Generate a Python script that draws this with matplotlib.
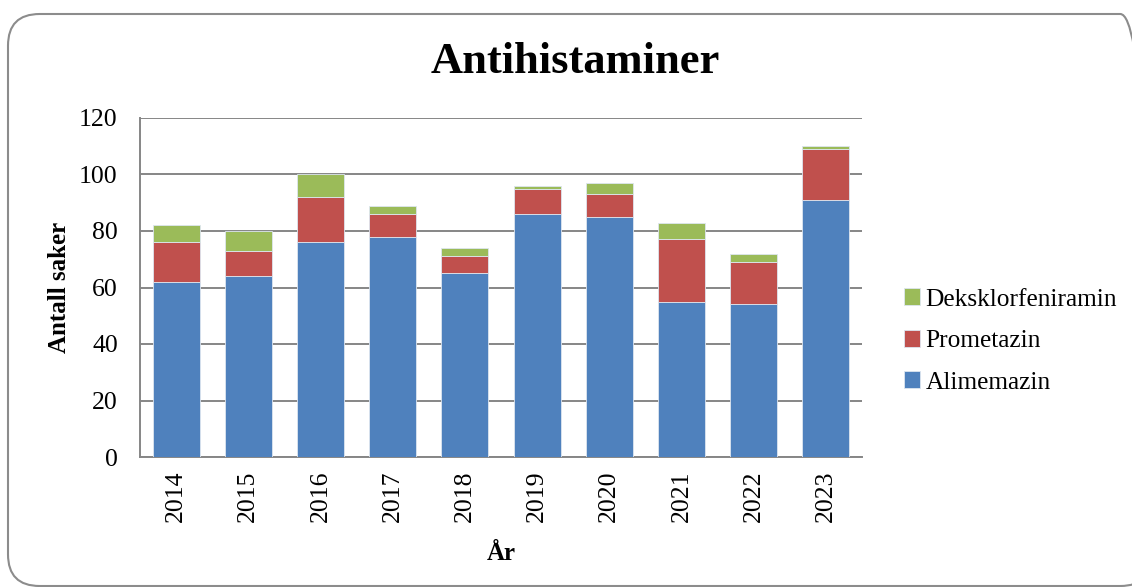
"""
Antihistaminer - stacked bars per year.
"""

import matplotlib
matplotlib.use("Agg")
import matplotlib.pyplot as plt
import matplotlib.patches as patches
import numpy as np

years = ["2014", "2015", "2016", "2017", "2018",
         "2019", "2020", "2021", "2022", "2023"]

alimemazin = [62, 64, 76, 78, 65, 86, 85, 55, 54, 91]
prometazin = [14, 9, 16, 8, 6, 9, 8, 22, 15, 18]
deksklorfeniramin = [6, 7, 8, 3, 3, 1, 4, 6, 3, 1]

series_names = ["Alimemazin", "Prometazin", "Deksklorfeniramin"]
colors = ["#4F81BD", "#C0504D", "#9BBB59"]

plt.rcParams["font.family"] = ["Liberation Serif", "DejaVu Serif"]

fig = plt.figure(figsize=(11.32, 5.87), dpi=100)

#
# Rounded frame (right edge runs just past the image)
#

frame = patches.FancyBboxPatch(
    (8 / 1132, 1 / 587),
    (1152 - 8) / 1132,
    1 - 14 / 587 - 1 / 587,
    boxstyle="round,pad=0,rounding_size=0.028",
    transform=fig.transFigure,
    facecolor="none",
    edgecolor="#8c8c8c",
    linewidth=1.5,
    mutation_aspect=1132 / 587,
    zorder=-1,
)
fig.patches.append(frame)

ax = fig.add_axes([140 / 1132, 130 / 587, 722 / 1132, 339 / 587])
ax.set_facecolor("none")

x = np.arange(len(years))
bottom = np.zeros(len(years))
handles = []

for name, vals, col in zip(
    series_names,
    [alimemazin, prometazin, deksklorfeniramin],
    colors,
):
    b = ax.bar(
        x,
        vals,
        width=0.65,
        bottom=bottom,
        color=col,
        edgecolor="#dde6f0",
        linewidth=0.6,
        label=name,
        zorder=3,
    )
    handles.append(b)
    bottom = bottom + np.array(vals)

ax.set_xlim(-0.5, len(years) - 0.5)
ax.set_ylim(0, 120)
ax.set_yticks(range(0, 121, 20))
ax.set_xticks(x)
ax.set_xticklabels(years, rotation=90)

ax.yaxis.grid(True, color="#868686", linewidth=1.4, zorder=0)
ax.set_axisbelow(True)

for side in ["top", "right"]:
    ax.spines[side].set_visible(False)
for side in ["left", "bottom"]:
    ax.spines[side].set_color("#868686")
    ax.spines[side].set_linewidth(1.4)

ax.tick_params(axis="both", labelsize=18.5, length=0)
ax.tick_params(axis="x", pad=10)
ax.tick_params(axis="y", pad=16)

ax.set_ylabel("Antall saker", fontsize=18, fontweight="bold", labelpad=6)
ax.set_xlabel("År", fontsize=18, fontweight="bold", labelpad=14)

fig.text(
    575 / 1132,
    1 - 62 / 587,
    "Antihistaminer",
    ha="center",
    va="center",
    fontsize=32,
    fontweight="bold",
)

ax.legend(
    handles[::-1],
    series_names[::-1],
    loc="center left",
    bbox_to_anchor=(881 / 1132, 1 - 341 / 587),
    bbox_transform=fig.transFigure,
    frameon=False,
    fontsize=18.3,
    handlelength=0.65,
    handleheight=0.65,
    handletextpad=0.2,
    labelspacing=0.75,
)

fig.savefig("out.png", dpi=100)
